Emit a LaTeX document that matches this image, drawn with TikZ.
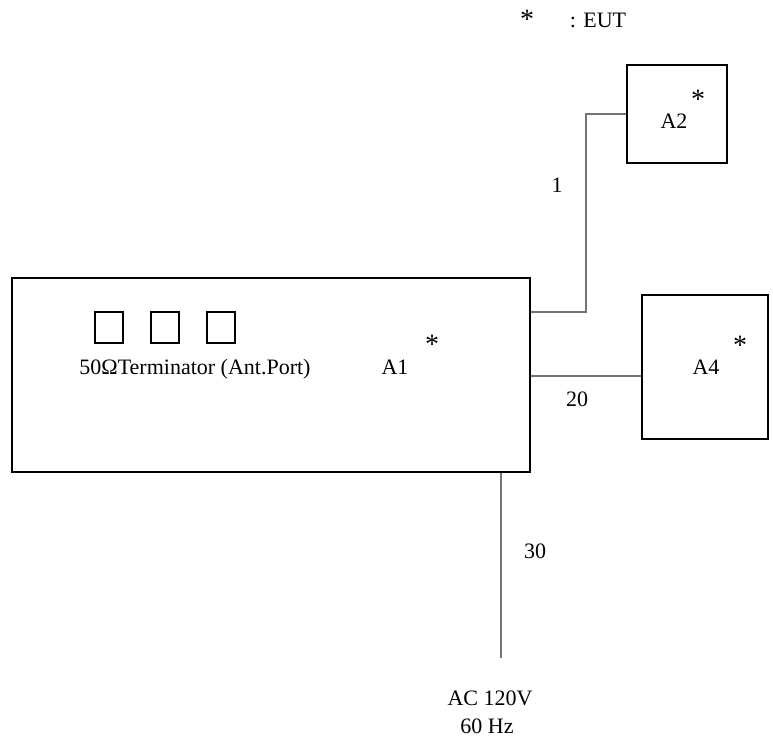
\documentclass[tikz,border=0pt]{standalone}
\usepackage{fontspec}
\setmainfont{Liberation Serif}
\begin{document}
\begin{tikzpicture}[x=1pt,y=-1pt,font=\fontsize{22}{26}\selectfont,
    unit/.style={draw,line width=2.8pt,inner sep=0pt},
    port/.style={draw,line width=2.4pt,inner sep=0pt,minimum width=28pt,minimum height=31pt},
    cable/.style={draw=black!55,line width=1.2pt},
    lbl/.style={inner sep=0pt,anchor=base},
    star/.style={lbl,font=\fontsize{28}{30}\selectfont}]
    \useasboundingbox (0,0) rectangle (773,740);
    \node[unit,minimum width=518pt,minimum height=194pt] (A1) at (271,375) {};
    \node[unit,minimum width=100pt,minimum height=98pt] (A2) at (677,114) {};
    \node[unit,minimum width=126pt,minimum height=144pt] (A4) at (705,367) {};
    \foreach \i in {1,2,3}
      \node[port] (T\i) at (53+56*\i,327.5) {};

    \node[lbl] (term) at (195,374) {50\symbol{"03A9}Terminator (Ant.Port)};
    \node[lbl] (nA1) at (395,374) {A1};
    \node[star] (sA1) at (432,353) {*};
    \node[lbl] (nA2) at (674,128) {A2};
    \node[star] (sA2) at (698,108) {*};
    \node[lbl] (nA4) at (706,374) {A4};
    \node[star] (sA4) at (740,354) {*};
    \node[star] (key) at (527,28) {*};
    \node[lbl] (eut) at (598,27) {: EUT};

    \coordinate (c1) at (586,312);
    \coordinate (c2) at (586,114);
    \draw[cable] (A1.east |- c1) -- (c1) -- (c2) -- (A2.west);
    \node[lbl] (l1) at (557,192) {1};
    \coordinate (c20) at (600,376);
    \draw[cable] (A1.east |- c20) -- (A4.west |- c20);
    \node[lbl] (l20) at (577,406) {20};
    \coordinate (c30) at (501,658);
    \draw[cable] (A1.south -| c30) -- (c30);
    \node[lbl] (l30) at (535,558) {30};
    \node[lbl] (ac) at (490,705) {AC 120V};
    \node[lbl] (hz) at (487,733) {60 Hz};
\end{tikzpicture}
\end{document}
